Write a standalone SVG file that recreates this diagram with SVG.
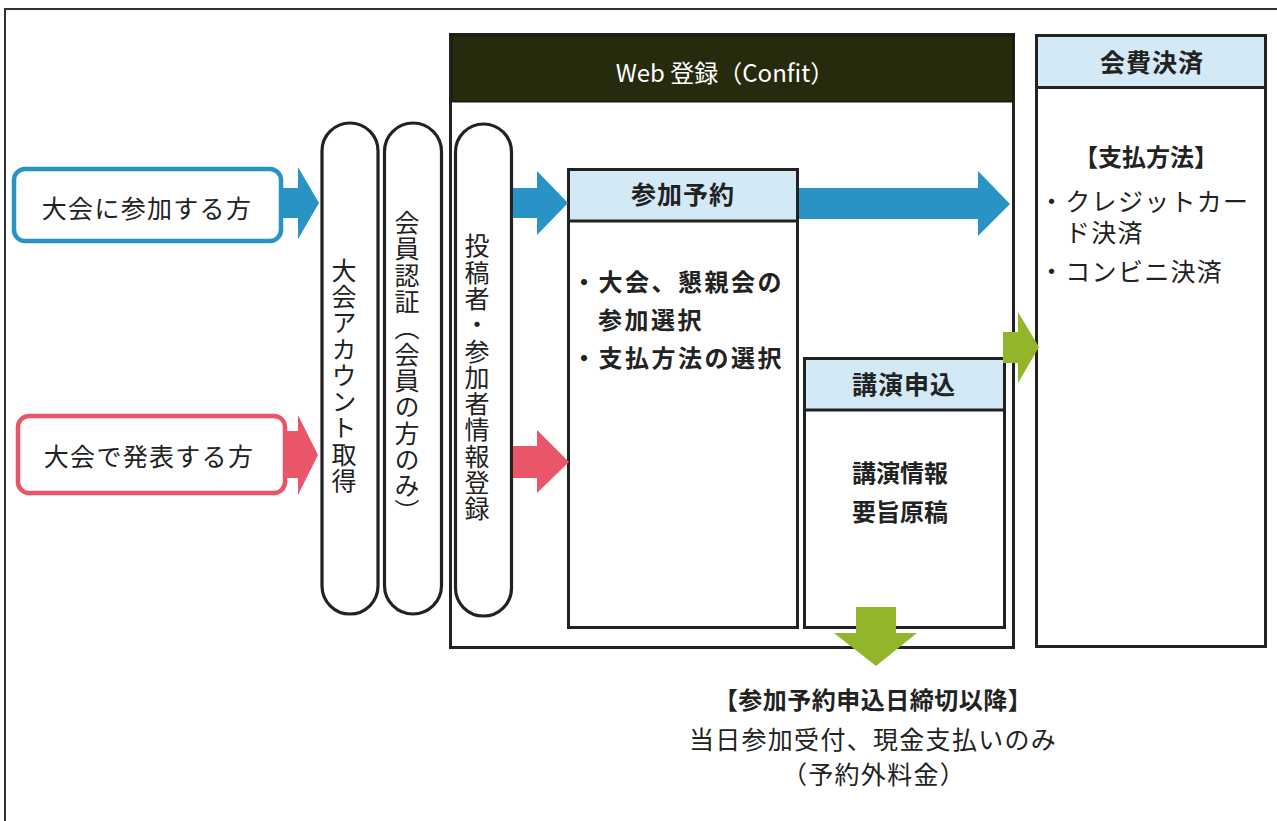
<svg xmlns="http://www.w3.org/2000/svg" width="1277" height="821" viewBox="0 0 1277 821">
<style>
text{font-family:"Noto Sans CJK JP","Noto Sans",sans-serif;fill:#222}
.r{font-size:25px;letter-spacing:1.3px}
.b{font-weight:bold}
.c{text-anchor:middle}
.v{writing-mode:vertical-rl;text-anchor:middle;font-size:25px;letter-spacing:1.3px}
.box{fill:#fff;stroke:#222;stroke-width:3}
.hd{fill:#d3e9f6;stroke:#222;stroke-width:3}
.pill{fill:#fff;stroke:#222;stroke-width:3.2}
.blue{fill:#2a93c6}
.pink{fill:#e9566a}
.green{fill:#93b52b}
</style>
<rect x="5" y="9" width="1290" height="830" fill="#fff" stroke="#333" stroke-width="2"/>
<g id="web">
<rect class="box" x="450.5" y="34.5" width="563" height="613"/>
<rect x="452" y="35.5" width="561" height="66" fill="#262b0d" stroke="#1b1e08" stroke-width="2"/>
<text x="725" y="82" class="c" style="fill:#fff;font-size:24px">Web 登録（Confit）</text>
</g>
<g id="participant">
<rect x="14" y="169" width="267" height="72" rx="11" fill="#fff" stroke="#2a93c6" stroke-width="4.5"/>
<text x="147" y="218" class="r c">大会に参加する方</text>
</g>
<g id="presenter">
<rect x="18" y="416" width="267" height="77" rx="11" fill="#fff" stroke="#e9566a" stroke-width="4.5"/>
<text x="149" y="466" class="r c">大会で発表する方</text>
</g>
<g id="account">
<rect class="pill" x="322" y="123" width="56" height="491" rx="28"/>
<text x="344" y="376" class="v">大会アカウント取得</text>
</g>
<g id="member">
<rect class="pill" x="384.5" y="123" width="57" height="491" rx="28.5"/>
<text x="407" y="368" class="v">会員認証（会員の方のみ）</text>
</g>
<g id="info">
<rect class="pill" x="455.5" y="124" width="56" height="492" rx="28"/>
<text x="477" y="378" class="v">投稿者・参加者情報登録</text>
</g>
<g id="reserve">
<rect class="box" x="568.5" y="169.5" width="229" height="458"/>
<rect class="hd" x="568.5" y="169.5" width="229" height="51.5"/>
<text x="683" y="204" class="c b" style="font-size:25px;letter-spacing:1px">参加予約</text>
<text class="b" style="font-size:24px;letter-spacing:2.5px"><tspan x="572" y="291">・大会、懇親会の</tspan><tspan x="598" y="329">参加選択</tspan><tspan x="572" y="367">・支払方法の選択</tspan></text>
</g>
<g id="lecture">
<rect class="box" x="804.5" y="358.5" width="200" height="269"/>
<rect class="hd" x="804.5" y="358.5" width="200" height="51.5"/>
<text x="904" y="394" class="c b" style="font-size:25px;letter-spacing:1px">講演申込</text>
<text class="c b" style="font-size:24px"><tspan x="900" y="482">講演情報</tspan><tspan x="900" y="521">要旨原稿</tspan></text>
</g>
<g id="payment">
<rect class="box" x="1036.5" y="35.5" width="229" height="611"/>
<rect class="hd" x="1036.5" y="35.5" width="229" height="52"/>
<text x="1152" y="72" class="c b" style="font-size:25px;letter-spacing:1px">会費決済</text>
<text x="1146" y="166" class="c b" style="font-size:24px">【支払方法】</text>
<text class="r"><tspan x="1039" y="211">・クレジットカー</tspan><tspan x="1065" y="242">ド決済</tspan><tspan x="1039" y="281">・コンビニ決済</tspan></text>
</g>
<g id="after">
<text x="873" y="709" class="c b" style="font-size:24px;letter-spacing:0.5px">【参加予約申込日締切以降】</text>
<text class="r c"><tspan x="873" y="749">当日参加受付、現金支払いのみ</tspan><tspan x="874" y="784">（予約外料金）</tspan></text>
</g>
<g id="connectors">
<polygon class="blue" points="283,188 298,188 298,167 319,203 298,239 298,218 283,218"/>
<polygon class="blue" points="513,188 537,188 537,171 568,203 537,235 537,218 513,218"/>
<polygon class="blue" points="799,188 978,188 978,171 1010,204 978,236 978,219 799,219"/>
<polygon class="pink" points="287,431 298,431 298,415 318,455 298,495 298,478 287,478"/>
<polygon class="pink" points="513,446 537,446 537,430 569,462 537,493 537,478 513,478"/>
<polygon class="green" points="1003,332 1018,332 1018,312 1039,347 1018,383 1018,363 1003,363"/>
<polygon class="green" points="856,607 896,607 896,633 917,633 876,666 834,633 856,633"/>
</g>
</svg>
